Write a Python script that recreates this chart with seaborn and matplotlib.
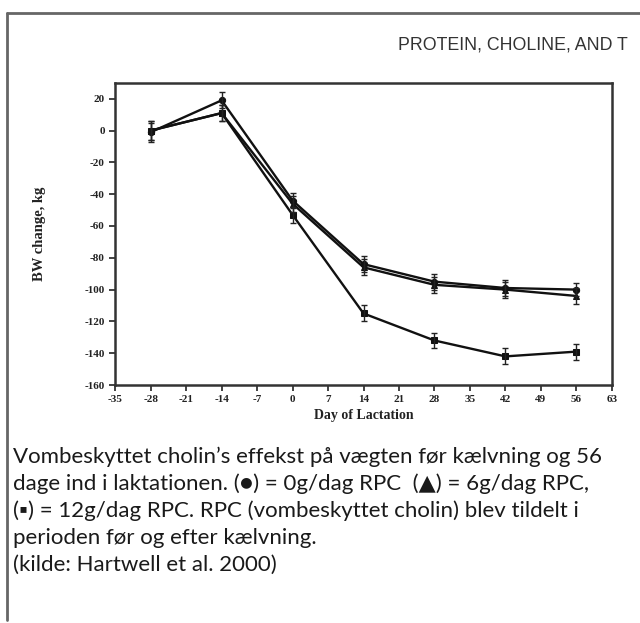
import matplotlib
matplotlib.use("Agg")
import matplotlib.pyplot as plt
import seaborn as sns
import pandas as pd
import numpy as np
from matplotlib.lines import Line2D

days = [-28, -14, 0, 14, 28, 42, 56]
rpc0 = [-1, 19, -44, -84, -95, -99, -100]
rpc6 = [0, 11, -46, -86, -97, -100, -104]
rpc12 = [0, 11, -53, -115, -132, -142, -139]
se0 = [6, 5, 5, 5, 5, 5, 4]
se6 = [6, 5, 5, 5, 5, 5, 5]
se12 = [6, 5, 5, 5, 5, 5, 5]
group_names = ["0g/dag RPC", "6g/dag RPC", "12g/dag RPC"]

x_ticks = list(range(-35, 64, 7))
y_ticks = list(range(-160, 21, 20))

header = "PROTEIN, CHOLINE, AND T"
caption_lines = [
    "Vombeskyttet cholin\u2019s effekst p\u00e5 v\u00e6gten f\u00f8r k\u00e6lvning og 56",
    "dage ind i laktationen. (\u25cf) = 0g/dag RPC  (\u25b2) = 6g/dag RPC,",
    "(\u25aa) = 12g/dag RPC. RPC (vombeskyttet cholin) blev tildelt i",
    "perioden f\u00f8r og efter k\u00e6lvning.",
    "(kilde: Hartwell et al. 2000)",
]

df = pd.DataFrame({
    "day": days * 3,
    "bw": rpc0 + rpc6 + rpc12,
    "se": se0 + se6 + se12,
    "group": [group_names[0]] * 7 + [group_names[1]] * 7 + [group_names[2]] * 7,
})

sns.set_theme(style="white")
plt.rcParams["axes.unicode_minus"] = False

fig = plt.figure(figsize=(6.4, 6.23), dpi=100)
ax = fig.add_axes([0.180, 0.382, 0.776, 0.485])

sns.lineplot(data=df, x="day", y="bw", hue="group", style="group",
             markers={group_names[0]: "o", group_names[1]: "^", group_names[2]: "s"},
             dashes=False, palette=["#111111"] * 3, markersize=4.5,
             linewidth=1.7, legend=False, ax=ax, markeredgecolor="#111111")
for g in group_names:
    sub = df[df["group"] == g]
    ax.errorbar(sub["day"], sub["bw"], yerr=sub["se"], fmt="none",
                ecolor="#222222", elinewidth=1.0, capsize=2.5, capthick=1.0)

ax.set_xlim(-35, 63)
ax.set_ylim(-160, 30)
ax.set_xticks(x_ticks)
ax.set_yticks(y_ticks)
serif = ["Liberation Serif", "DejaVu Serif"]
ax.set_xticklabels([str(t) for t in x_ticks], fontfamily=serif, fontweight="bold", fontsize=8, color="#222222")
ax.set_yticklabels([str(t) for t in y_ticks], fontfamily=serif, fontweight="bold", fontsize=8, color="#222222")
ax.tick_params(axis="both", direction="out", length=4, width=1.2, color="#222222", pad=3.5)
ax.tick_params(bottom=True, left=True)
for s in ax.spines.values():
    s.set_linewidth(1.8)
    s.set_color("#333333")
ax.set_xlabel("Day of Lactation", fontfamily=serif, fontweight="bold", fontsize=10, color="#222222", labelpad=3)
ax.set_ylabel("BW change, kg", fontfamily=serif, fontweight="bold", fontsize=10.5, color="#222222", labelpad=28)

# frame lines
fig.add_artist(Line2D([7/640, 7/640], [1 - 13/623, 1 - 620/623], transform=fig.transFigure, color="#666666", lw=2))
fig.add_artist(Line2D([7/640, 1.0], [1 - 13/623, 1 - 13/623], transform=fig.transFigure, color="#666666", lw=2))

fig.text(398/640, 1 - 45/623, header, fontfamily=["Liberation Sans", "DejaVu Sans"], fontsize=12.8,
         color="#333333", ha="left", va="center")

cap_family = ["Lato", "DejaVu Sans"]
y0 = 457
for i, line in enumerate(caption_lines):
    fig.text(13/640, 1 - (y0 + i * 27)/623, line, fontfamily=cap_family, fontsize=16,
             color="#1a1a1a", ha="left", va="center")

fig.savefig("out.png", dpi=100)
